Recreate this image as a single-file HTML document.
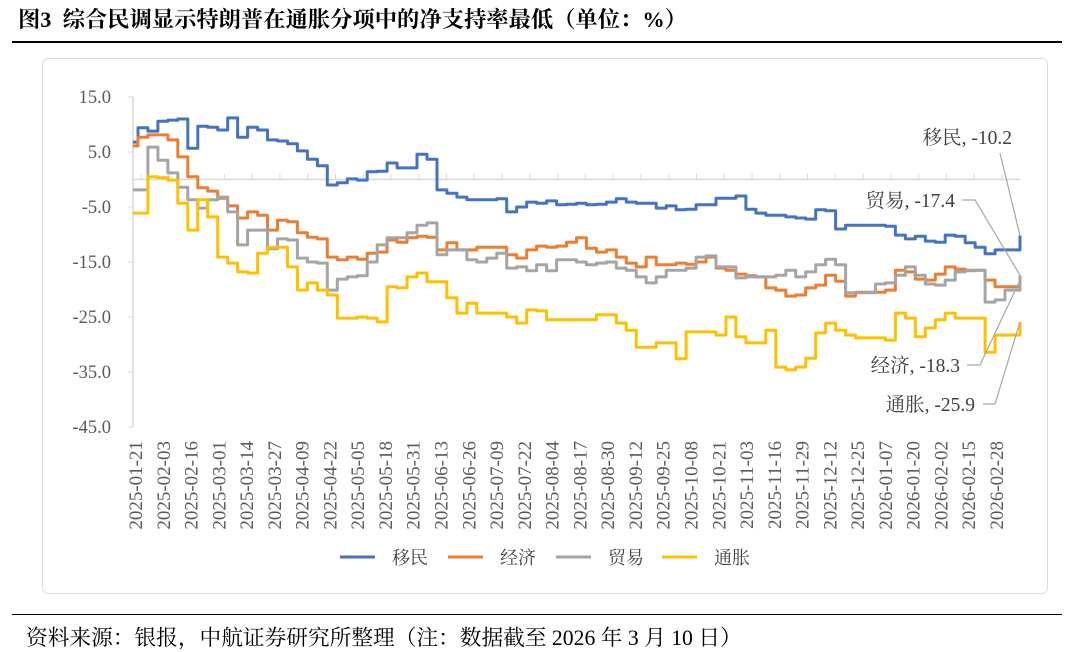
<!DOCTYPE html>
<html><head><meta charset="utf-8">
<style>
body{margin:0;background:#fff;width:1080px;height:652px;overflow:hidden;font-family:"Liberation Serif","Noto Serif CJK SC",serif;}
.t{position:absolute;left:18px;top:2px;font-size:22.3px;font-weight:bold;font-family:"Liberation Serif","Noto Serif CJK SC",serif;color:#000;white-space:nowrap;}
.s{position:absolute;left:26px;top:621px;font-size:21.7px;color:#000;white-space:nowrap;}
</style></head><body>
<div class="t">图3&nbsp;&nbsp;综合民调显示特朗普在通胀分项中的净支持率最低（单位：%）</div>
<div style="position:absolute;left:12px;top:41px;width:1050px;height:2px;background:#000"></div>
<div style="position:absolute;left:12px;top:614px;width:1050px;height:1px;background:#000"></div>
<div class="s">资料来源：银报，中航证券研究所整理（注：数据截至 2026 年 3 月 10 日）</div>
<svg id="c" width="1080" height="652" style="position:absolute;left:0;top:0">
<rect x="42.5" y="58.5" width="1005" height="535" rx="6" fill="none" stroke="#d9d9d9"/>
</svg>
<script>
const yTicks=[15,5,-5,-15,-25,-35,-45];
const dateLabels=["2025-01-21","2025-02-03","2025-02-16","2025-03-01","2025-03-14","2025-03-27","2025-04-09","2025-04-22","2025-05-05","2025-05-18","2025-05-31","2025-06-13","2025-06-26","2025-07-09","2025-07-22","2025-08-04","2025-08-17","2025-08-30","2025-09-12","2025-09-25","2025-10-08","2025-10-21","2025-11-03","2025-11-16","2025-11-29","2025-12-12","2025-12-25","2026-01-07","2026-01-20","2026-02-02","2026-02-15","2026-02-28"];
const seriesNames=["移民","经济","贸易","通胀"];
const immigration=[6.8,9.4,8.8,10.6,10.8,11.0,5.7,9.7,9.5,9.0,11.2,7.7,9.5,9.0,7.2,7.0,6.5,5.2,3.7,2.5,-1.0,-0.6,0.1,-0.1,1.4,1.5,3.0,2.1,2.1,4.6,3.7,-1.9,-2.5,-3.2,-3.7,-3.7,-3.7,-3.5,-5.9,-5.0,-4.1,-4.3,-3.9,-4.6,-4.5,-4.3,-4.6,-4.5,-4.1,-3.5,-4.1,-4.3,-4.3,-5.2,-4.8,-5.5,-5.4,-4.6,-4.6,-3.4,-3.4,-3.0,-5.4,-6.1,-6.5,-6.5,-6.8,-7.0,-7.2,-5.5,-5.7,-9.0,-8.3,-8.3,-8.3,-8.3,-8.5,-10.1,-10.8,-10.3,-11.2,-11.4,-10.1,-10.3,-11.5,-12.3,-13.5,-12.8,-12.8,-10.2];
const economy=[6.1,7.7,8.1,8.1,7.2,4.1,0.5,-1.5,-2.1,-3.4,-4.8,-7.0,-5.9,-6.5,-9.2,-7.4,-7.7,-9.7,-10.5,-10.8,-14.1,-14.6,-14.1,-14.5,-13.4,-13.2,-11.0,-11.4,-10.6,-10.3,-10.5,-12.8,-11.5,-12.8,-12.8,-12.3,-12.3,-12.3,-13.7,-14.3,-12.8,-12.1,-12.3,-12.1,-11.4,-10.6,-12.5,-13.2,-12.8,-14.1,-15.2,-15.9,-14.1,-15.5,-15.5,-15.2,-15.4,-15.0,-14.1,-16.1,-16.5,-17.2,-17.5,-17.7,-19.7,-20.1,-21.2,-21.0,-19.7,-19.2,-17.4,-18.5,-21.2,-20.5,-20.5,-20.5,-20.1,-16.5,-16.8,-18.1,-18.3,-17.2,-15.9,-16.3,-16.5,-16.5,-18.3,-19.5,-19.5,-18.3];
const trade=[-1.9,-1.9,5.9,3.5,1.2,-1.4,-3.7,-5.2,-3.7,-3.2,-5.9,-11.9,-9.2,-9.2,-12.6,-10.8,-11.0,-14.3,-15.0,-15.2,-20.1,-18.1,-17.7,-17.5,-15.0,-11.9,-10.6,-10.6,-9.7,-8.3,-7.9,-13.7,-12.8,-12.8,-14.6,-15.0,-14.3,-13.4,-16.1,-15.9,-16.6,-15.5,-16.6,-14.6,-14.6,-15.0,-15.5,-15.2,-15.0,-16.1,-16.5,-17.7,-18.8,-17.7,-16.5,-16.5,-16.1,-14.1,-13.9,-15.9,-15.9,-17.9,-17.7,-17.7,-17.7,-17.4,-16.5,-17.7,-16.8,-15.5,-14.5,-15.5,-20.6,-20.6,-20.6,-19.0,-18.8,-17.4,-15.9,-17.4,-19.0,-19.2,-18.3,-16.8,-16.6,-16.5,-22.3,-21.9,-20.1,-17.4];
const inflation=[-6.1,-6.1,0.5,0.3,-0.1,-4.3,-9.2,-3.7,-6.8,-14.1,-15.2,-16.8,-17.0,-13.4,-12.3,-12.3,-15.9,-20.1,-18.8,-20.1,-21.0,-25.2,-25.2,-25.0,-25.2,-25.9,-19.5,-19.7,-17.7,-17.0,-18.6,-18.6,-21.5,-24.3,-22.5,-24.3,-24.3,-24.3,-25.0,-26.1,-23.7,-23.9,-25.5,-25.5,-25.5,-25.5,-25.5,-24.6,-24.6,-26.1,-27.4,-30.5,-30.5,-29.7,-29.7,-32.6,-27.7,-27.7,-27.7,-28.3,-25.0,-28.6,-29.7,-29.7,-27.4,-34.1,-34.6,-34.1,-32.5,-27.9,-26.1,-27.4,-28.3,-28.8,-28.8,-28.8,-29.2,-24.3,-25.2,-28.6,-27.0,-25.5,-24.3,-25.2,-25.2,-25.2,-31.4,-28.3,-28.3,-25.9];
const colors=["#4472c4","#ed7d31","#a5a5a5","#ffc000"];
const NS="http://www.w3.org/2000/svg";
const svg=document.getElementById('c');
const X0=133,X1=1020;
const y=v=>179.5-(v)*5.5;
const xi=(i,n)=>X0+i*(X1-X0)/(n-1);
function mk(t,a){const e=document.createElementNS(NS,t);for(const k in a)e.setAttribute(k,a[k]);svg.appendChild(e);return e;}
let ax=mk('line',{x1:133,y1:y(15),x2:133,y2:y(-45),stroke:'#d9d9d9','stroke-width':1.5});


yTicks.forEach(v=>{
 let tk=mk('line',{x1:128,x2:133,y1:y(v),y2:y(v),stroke:'#d9d9d9'});
 
 
 let t=mk('text',{x:111,y:y(v)+6,'text-anchor':'end','font-size':18.5,fill:'#595959','font-family':'Liberation Serif, serif'});
 t.textContent=v.toFixed(1);
 
 
});
let xa=mk('line',{x1:133,x2:X1,y1:y(0),y2:y(0),stroke:'#d9d9d9','stroke-width':1.5});


const step=(997-136)/(dateLabels.length-1);
dateLabels.forEach((d,k)=>{
 const x=136+k*step;
 let tk=mk('line',{x1:x+5,x2:x+5,y1:y(0),y2:y(0)-6,stroke:'#d9d9d9'});
 
 
 let t=mk('text',{x:0,y:0,'text-anchor':'end','font-size':19,fill:'#595959','font-family':'Liberation Serif, serif',transform:`translate(${x+6},441) rotate(-90)`});
 t.textContent=d;
 
 
});
[immigration,economy,trade,inflation].forEach((arr,s)=>{
 const n=arr.length;let pts=[];
 arr.forEach((v,i)=>{
  const x=xi(i,n)-(i>0&&i<n-1?5:0);
  if(i>0)pts.push(x.toFixed(1)+','+y(arr[i-1]).toFixed(1));
  pts.push(x.toFixed(1)+','+y(v).toFixed(1));
 });
 let p=mk('polyline',{points:pts.join(' '),fill:'none',stroke:colors[s],'stroke-width':3,'stroke-linejoin':'round'});
 
 
});
const lbls=[[immigration,1012,144,[[1000,153]]],[trade,955,207,[[962,200],[975,200]]],[economy,960,372,[[967,365],[980,365]]],[inflation,975,411,[[983,404],[995,404]]]];
const order=[0,2,1,3];
lbls.forEach((L,j)=>{
 const arr=L[0],s=order[j],last=arr[arr.length-1];
 let t=mk('text',{x:L[1],y:L[2],'text-anchor':'end','font-size':19.5,fill:'#404040','font-family':'Liberation Serif, Noto Serif CJK SC, serif'});
 t.textContent=seriesNames[s]+', '+last.toFixed(1);
 
 
 const pts=L[3].concat([[X1,y(last)]]).map(p=>p.join(',')).join(' ');
 let l=mk('polyline',{points:pts,fill:'none',stroke:'#a6a6a6','stroke-width':1.2});
 
 
});
const lx=[340,448,556,662];
seriesNames.forEach((n,s)=>{
 let l=mk('line',{x1:lx[s],x2:lx[s]+35,y1:557,y2:557,stroke:colors[s],'stroke-width':3});
 
 
 let t=mk('text',{x:lx[s]+52,y:564,'font-size':18,fill:'#404040','font-family':'Liberation Serif, Noto Serif CJK SC, serif'});
 t.textContent=n;
 
 
});
</script>
</body></html>
